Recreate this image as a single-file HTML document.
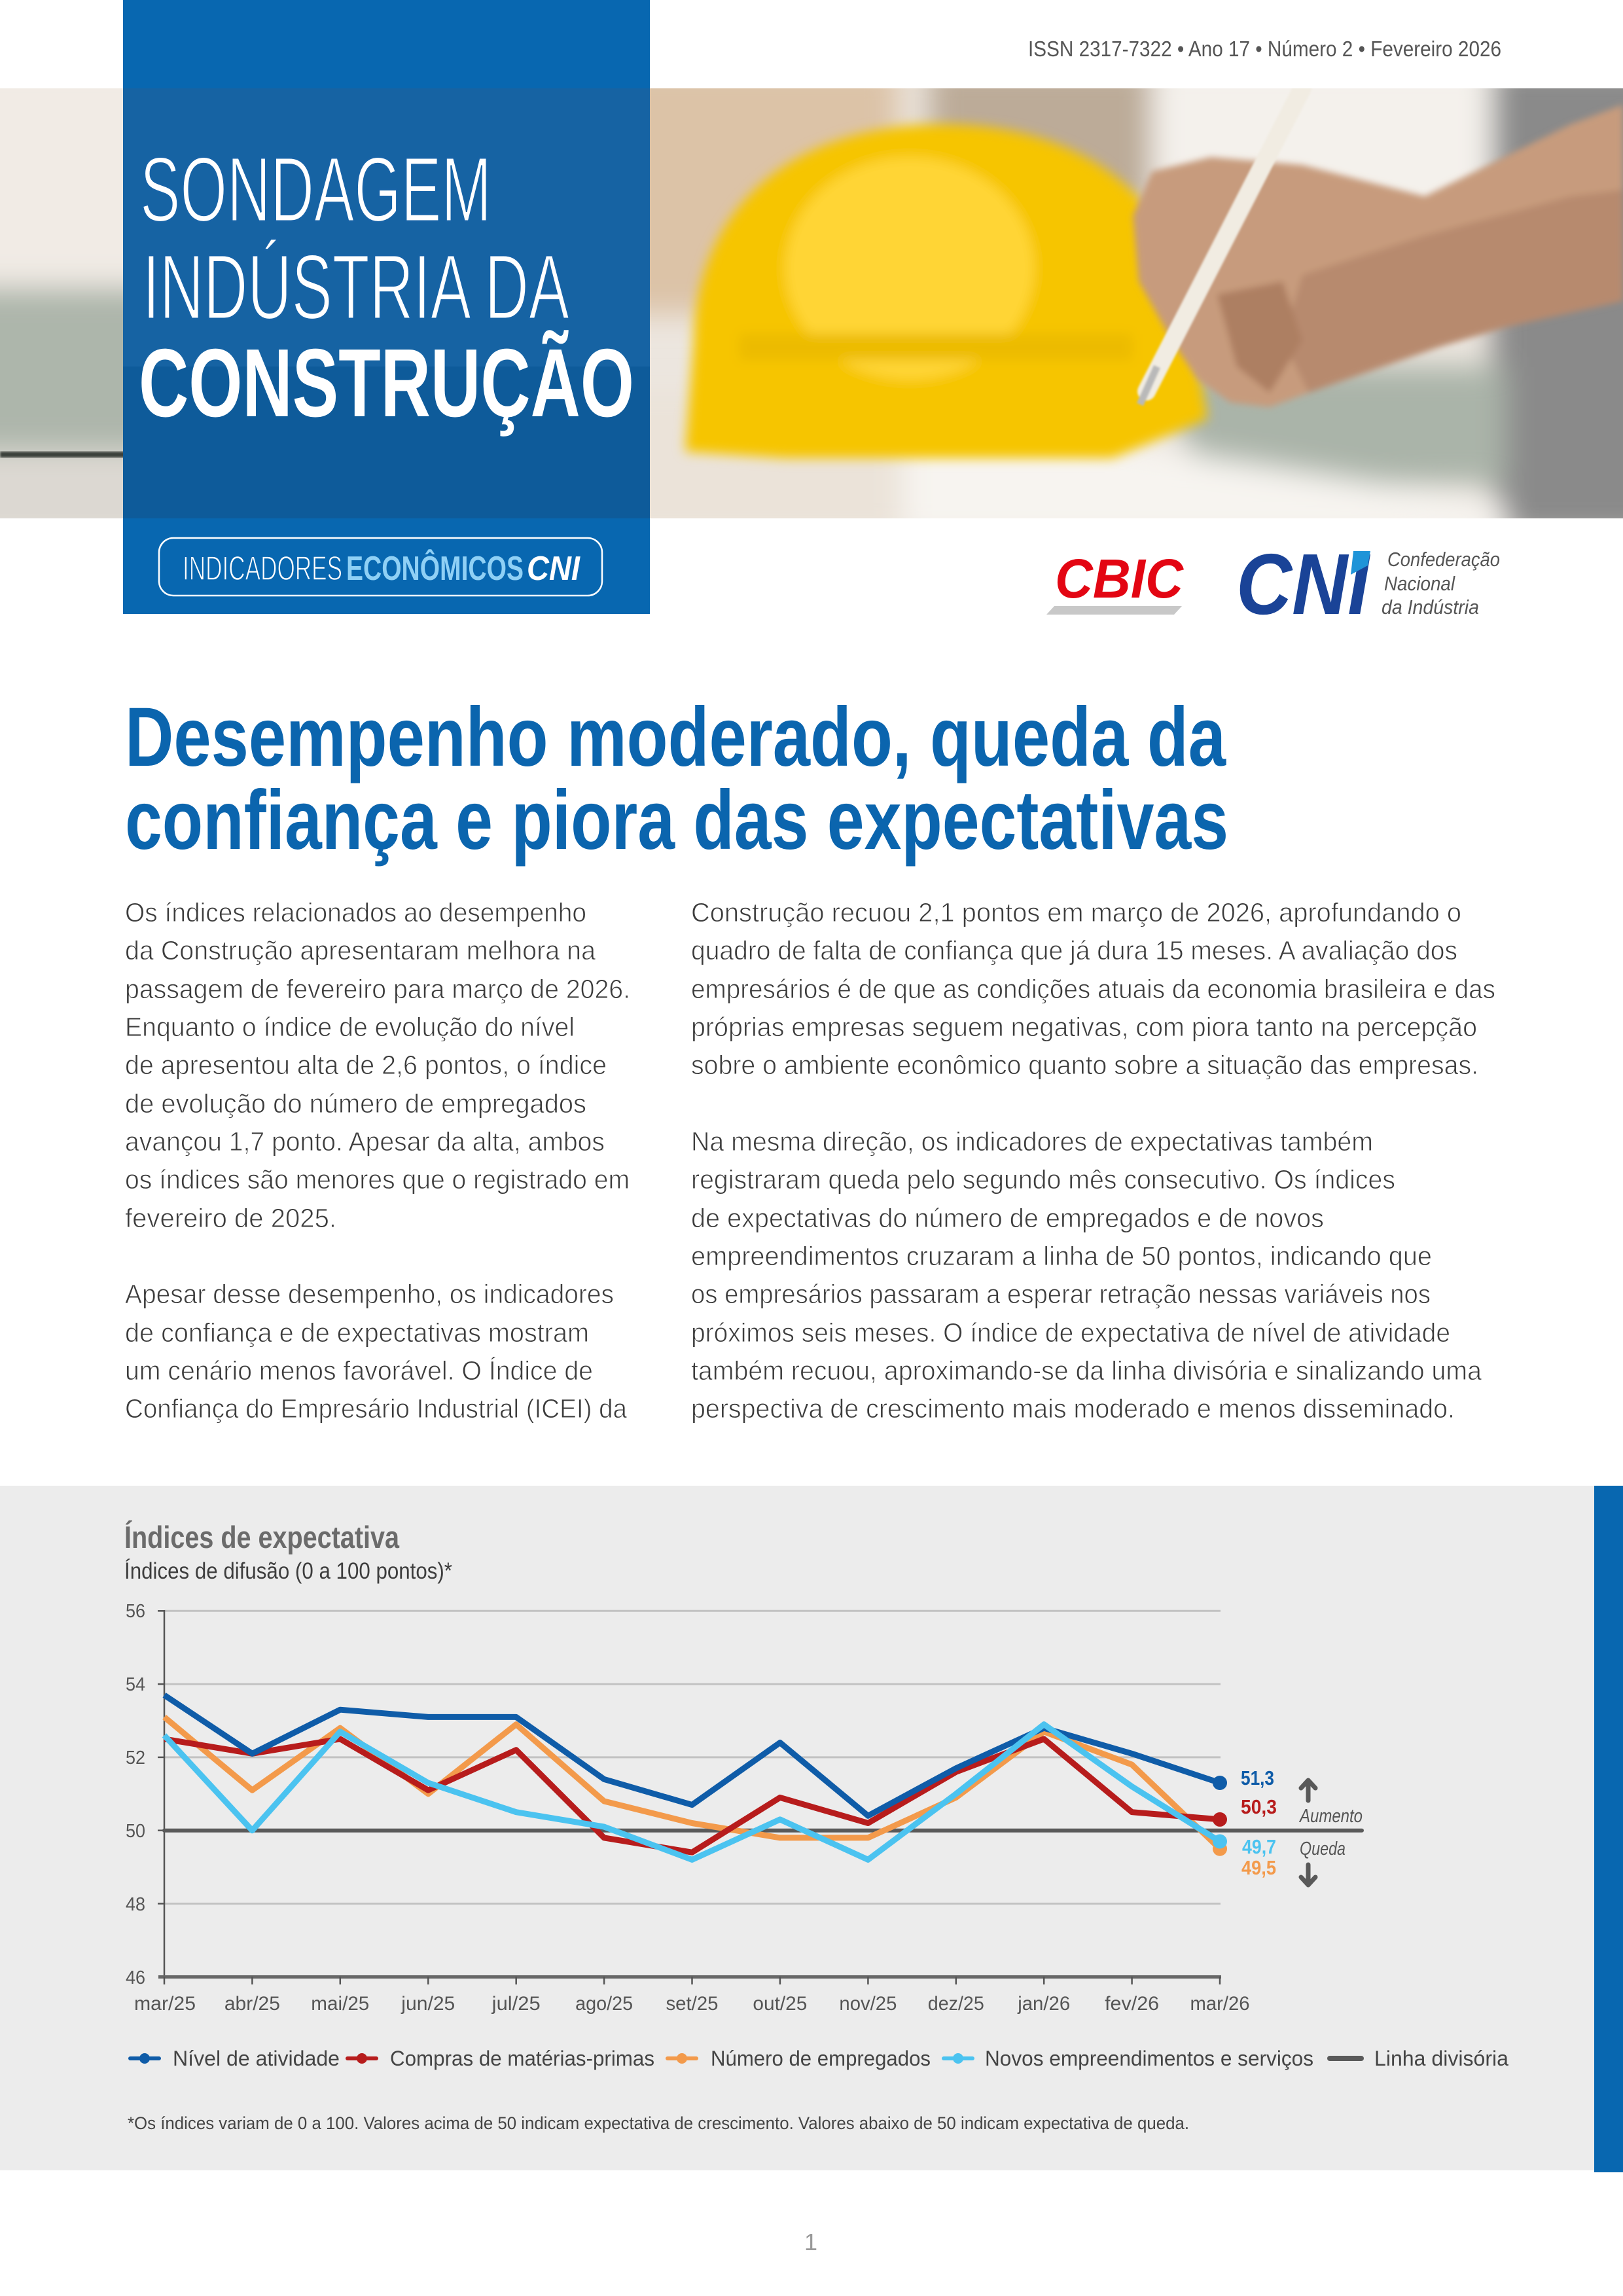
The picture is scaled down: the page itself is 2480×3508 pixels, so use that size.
<!DOCTYPE html>
<html><head><meta charset="utf-8"><style>
html,body{margin:0;padding:0;background:#fff;}
svg{display:block;}
text{font-family:"Liberation Sans",sans-serif;}
</style></head><body>
<svg width="2480" height="3508" viewBox="0 0 2480 3508" xmlns="http://www.w3.org/2000/svg">
<defs>
<filter id="blur" x="-10%" y="-10%" width="120%" height="120%"><feGaussianBlur stdDeviation="22"/></filter>
<filter id="blurH" x="-10%" y="-10%" width="120%" height="120%"><feGaussianBlur stdDeviation="9"/></filter>
<filter id="blur2" x="-10%" y="-10%" width="120%" height="120%"><feGaussianBlur stdDeviation="5"/></filter>
<filter id="blur3" x="-10%" y="-10%" width="120%" height="120%"><feGaussianBlur stdDeviation="1.5"/></filter>
<clipPath id="photoclip"><rect x="0" y="135" width="2480" height="657"/></clipPath>
</defs>
<rect x="0" y="0" width="2480" height="3508" fill="#ffffff"/>

<!-- ISSN -->
<text x="1571" y="86" font-size="33" fill="#555" textLength="723" lengthAdjust="spacingAndGlyphs">ISSN 2317-7322 • Ano 17 • Número 2 • Fevereiro 2026</text>

<!-- PHOTO -->
<g clip-path="url(#photoclip)">
 <rect x="0" y="135" width="2480" height="657" fill="#ece6df"/>
 <g filter="url(#blur)">
  <!-- left strip -->
  <rect x="-60" y="100" width="300" height="330" fill="#f1ebe5"/>
  <rect x="-60" y="440" width="300" height="250" fill="#adb6ab"/>
  <rect x="-60" y="700" width="300" height="120" fill="#dcd8d2"/>
  <!-- right area bg -->
  <rect x="940" y="100" width="433" height="380" fill="#dcc3a7"/>
  <rect x="1420" y="100" width="360" height="220" fill="#bcab98"/>
  <rect x="1760" y="100" width="540" height="330" fill="#f4f1ec"/>
  <rect x="2280" y="100" width="260" height="720" fill="#8a8a8a"/>
  <rect x="940" y="600" width="503" height="220" fill="#ebe3d9"/>
  <polygon points="1750,560 2300,560 2300,740 1850,740" fill="#aab4a9"/>
  <!-- paper -->
  <polygon points="1380,650 1600,660 2300,770 2300,820 1380,820" fill="#f7f4f0"/>
 </g>
 <rect x="0" y="690" width="200" height="9" fill="#3a403a" filter="url(#blur3)"/>
 <g filter="url(#blurH)">
  <!-- helmet -->
  <path d="M1047,690 L1060,520 C1065,300 1230,190 1440,190 C1650,190 1815,300 1825,520 L1845,640 L1700,700 L1200,700 Z" fill="#f6c500"/>
  <ellipse cx="1390" cy="410" rx="190" ry="170" fill="#ffd534"/>
  <rect x="1130" y="510" width="600" height="40" fill="#ecbb00"/>
 </g>
 <!-- under blue box darker shapes (covered by overlay) -->
 <rect x="188" y="135" width="805" height="657" fill="#5a6a78"/>
 <rect x="188" y="560" width="805" height="232" fill="#26323e"/>
 <!-- hand -->
 <g filter="url(#blur2)">
  <polygon points="1731,330 1760,262 1850,240 1990,252 2177,300 2400,190 2480,160 2480,460 2300,500 2200,530 2000,600 1940,622 1880,615 1830,580 1790,520 1740,430" fill="#c79b7d"/>
  <polygon points="1990,420 2177,360 2400,300 2480,290 2480,460 2300,500 2200,530 2000,600 1960,520" fill="#b78a6e"/>
  <polygon points="1860,450 1960,430 1990,520 1940,600 1890,560" fill="#ad7f62"/>
 </g>
 <g filter="url(#blur3)">
  <line x1="1990" y1="135" x2="1752" y2="598" stroke="#f1ece2" stroke-width="28" stroke-linecap="round"/>
  <line x1="1768" y1="560" x2="1742" y2="618" stroke="#b9b9b9" stroke-width="11"/>
 </g>
</g>

<!-- BLUE BOX -->
<rect x="188" y="0" width="805" height="135" fill="#0867b0"/>
<rect x="188" y="135" width="805" height="657" fill="#0a62aa" opacity="0.86"/>
<rect x="188" y="792" width="805" height="146" fill="#0867b0"/>

<g stroke="#1763a6" stroke-width="3">
<text x="214" y="338" font-size="141" fill="#fff" textLength="537" lengthAdjust="spacingAndGlyphs">SONDAGEM</text>
<text x="218" y="487" font-size="141" fill="#fff" textLength="652" lengthAdjust="spacingAndGlyphs">INDÚSTRIA DA</text>
</g>
<text x="212" y="636" font-size="148" font-weight="bold" fill="#fff" textLength="757" lengthAdjust="spacingAndGlyphs">CONSTRUÇÃO</text>

<rect x="243" y="822" width="677" height="88" rx="22" ry="22" fill="none" stroke="#ffffff" stroke-width="2.5"/>
<text x="279" y="886" font-size="52" fill="#fff" stroke="#0867b0" stroke-width="1.5" textLength="244" lengthAdjust="spacingAndGlyphs">INDICADORES</text>
<text x="529" y="886" font-size="52" font-weight="bold" fill="#8fd0f5" textLength="271" lengthAdjust="spacingAndGlyphs">ECONÔMICOS</text>
<text x="805" y="886" font-size="52" font-weight="bold" font-style="italic" fill="#fff" textLength="81" lengthAdjust="spacingAndGlyphs">CNI</text>

<!-- LOGOS -->
<text x="1612" y="913" font-size="84" font-weight="bold" font-style="italic" fill="#e30613" textLength="196" lengthAdjust="spacingAndGlyphs">CBIC</text>
<polygon points="1611,926 1806,926 1794,939 1599,939" fill="#c8c8c8"/>
<text x="1889" y="938" font-size="132" font-weight="bold" font-style="italic" fill="#1a4397" textLength="203" lengthAdjust="spacingAndGlyphs">CNI</text>
<polygon points="2068,842 2094,842 2090,864 2064,878" fill="#1f94d8"/>
<text x="2120" y="865" font-size="31" font-style="italic" fill="#555" textLength="172" lengthAdjust="spacingAndGlyphs">Confederação</text>
<text x="2115" y="902" font-size="31" font-style="italic" fill="#555" textLength="108" lengthAdjust="spacingAndGlyphs">Nacional</text>
<text x="2111" y="938" font-size="31" font-style="italic" fill="#555" textLength="149" lengthAdjust="spacingAndGlyphs">da Indústria</text>

<!-- HEADLINE -->
<text x="191" y="1170" font-size="128" font-weight="bold" fill="#0b65ae" textLength="1682" lengthAdjust="spacingAndGlyphs">Desempenho moderado, queda da</text>
<text x="191" y="1297" font-size="128" font-weight="bold" fill="#0b65ae" textLength="1686" lengthAdjust="spacingAndGlyphs">confiança e piora das expectativas</text>

<!-- BODY LEFT -->
<g font-size="41" fill="#3c3c3c" stroke="#fff" stroke-width="0.9">
<text x="191" y="1408" textLength="705" lengthAdjust="spacingAndGlyphs">Os índices relacionados ao desempenho</text>
<text x="191" y="1466" textLength="719" lengthAdjust="spacingAndGlyphs">da Construção apresentaram melhora na</text>
<text x="191" y="1525" textLength="772" lengthAdjust="spacingAndGlyphs">passagem de fevereiro para março de 2026.</text>
<text x="191" y="1583" textLength="687" lengthAdjust="spacingAndGlyphs">Enquanto o índice de evolução do nível</text>
<text x="191" y="1641" textLength="736" lengthAdjust="spacingAndGlyphs">de apresentou alta de 2,6 pontos, o índice</text>
<text x="191" y="1700" textLength="705" lengthAdjust="spacingAndGlyphs">de evolução do número de empregados</text>
<text x="191" y="1758" textLength="733" lengthAdjust="spacingAndGlyphs">avançou 1,7 ponto. Apesar da alta, ambos</text>
<text x="191" y="1816" textLength="771" lengthAdjust="spacingAndGlyphs">os índices são menores que o registrado em</text>
<text x="191" y="1875" textLength="323" lengthAdjust="spacingAndGlyphs">fevereiro de 2025.</text>
<text x="191" y="1991" textLength="747" lengthAdjust="spacingAndGlyphs">Apesar desse desempenho, os indicadores</text>
<text x="191" y="2050" textLength="709" lengthAdjust="spacingAndGlyphs">de confiança e de expectativas mostram</text>
<text x="191" y="2108" textLength="715" lengthAdjust="spacingAndGlyphs">um cenário menos favorável. O Índice de</text>
<text x="191" y="2166" textLength="767" lengthAdjust="spacingAndGlyphs">Confiança do Empresário Industrial (ICEI) da</text>
</g>
<!-- BODY RIGHT -->
<g font-size="41" fill="#3c3c3c" stroke="#fff" stroke-width="0.9">
<text x="1056" y="1408" textLength="1177" lengthAdjust="spacingAndGlyphs">Construção recuou 2,1 pontos em março de 2026, aprofundando o</text>
<text x="1056" y="1466" textLength="1171" lengthAdjust="spacingAndGlyphs">quadro de falta de confiança que já dura 15 meses. A avaliação dos</text>
<text x="1056" y="1525" textLength="1229" lengthAdjust="spacingAndGlyphs">empresários é de que as condições atuais da economia brasileira e das</text>
<text x="1056" y="1583" textLength="1201" lengthAdjust="spacingAndGlyphs">próprias empresas seguem negativas, com piora tanto na percepção</text>
<text x="1056" y="1641" textLength="1203" lengthAdjust="spacingAndGlyphs">sobre o ambiente econômico quanto sobre a situação das empresas.</text>
<text x="1056" y="1758" textLength="1042" lengthAdjust="spacingAndGlyphs">Na mesma direção, os indicadores de expectativas também</text>
<text x="1056" y="1816" textLength="1076" lengthAdjust="spacingAndGlyphs">registraram queda pelo segundo mês consecutivo. Os índices</text>
<text x="1056" y="1875" textLength="967" lengthAdjust="spacingAndGlyphs">de expectativas do número de empregados e de novos</text>
<text x="1056" y="1933" textLength="1132" lengthAdjust="spacingAndGlyphs">empreendimentos cruzaram a linha de 50 pontos, indicando que</text>
<text x="1056" y="1991" textLength="1130" lengthAdjust="spacingAndGlyphs">os empresários passaram a esperar retração nessas variáveis nos</text>
<text x="1056" y="2050" textLength="1160" lengthAdjust="spacingAndGlyphs">próximos seis meses. O índice de expectativa de nível de atividade</text>
<text x="1056" y="2108" textLength="1208" lengthAdjust="spacingAndGlyphs">também recuou, aproximando-se da linha divisória e sinalizando uma</text>
<text x="1056" y="2166" textLength="1167" lengthAdjust="spacingAndGlyphs">perspectiva de crescimento mais moderado e menos disseminado.</text>
</g>

<!-- CHART PANEL -->
<rect x="0" y="2270" width="2436" height="1046" fill="#ececec"/>
<rect x="2436" y="2270" width="44" height="1049" fill="#0867b0"/>

<text x="190" y="2365" font-size="47" font-weight="bold" fill="#6b6b6b" textLength="420" lengthAdjust="spacingAndGlyphs">Índices de expectativa</text>
<text x="190" y="2412" font-size="35" fill="#3d3d3d" textLength="501" lengthAdjust="spacingAndGlyphs">Índices de difusão (0 a 100 pontos)*</text>

<!-- gridlines -->
<g stroke="#c2c2c2" stroke-width="3">
<line x1="251" y1="2461.3" x2="1865" y2="2461.3"/>
<line x1="251" y1="2573.1" x2="1865" y2="2573.1"/>
<line x1="251" y1="2684.9" x2="1865" y2="2684.9"/>
<line x1="251" y1="2908.5" x2="1865" y2="2908.5"/>
</g>
<!-- y ticks -->
<g stroke="#555" stroke-width="2.5">
<line x1="241" y1="2461.3" x2="251" y2="2461.3"/>
<line x1="241" y1="2573.1" x2="251" y2="2573.1"/>
<line x1="241" y1="2684.9" x2="251" y2="2684.9"/>
<line x1="241" y1="2796.7" x2="251" y2="2796.7"/>
<line x1="241" y1="2908.5" x2="251" y2="2908.5"/>
<line x1="251" y1="2460" x2="251" y2="3022"/>
</g>
<g font-size="29" fill="#555" text-anchor="end">
<text x="222" y="2471" textLength="30" lengthAdjust="spacingAndGlyphs">56</text>
<text x="222" y="2583" textLength="30" lengthAdjust="spacingAndGlyphs">54</text>
<text x="222" y="2695" textLength="30" lengthAdjust="spacingAndGlyphs">52</text>
<text x="222" y="2807" textLength="30" lengthAdjust="spacingAndGlyphs">50</text>
<text x="222" y="2919" textLength="30" lengthAdjust="spacingAndGlyphs">48</text>
<text x="222" y="3031" textLength="30" lengthAdjust="spacingAndGlyphs">46</text>
</g>
<!-- x axis -->
<line x1="242" y1="3020.5" x2="1866" y2="3020.5" stroke="#666" stroke-width="5"/>
<g stroke="#555" stroke-width="2.5">
<line x1="251" y1="3020" x2="251" y2="3032"/>
<line x1="385.4" y1="3020" x2="385.4" y2="3032"/>
<line x1="519.8" y1="3020" x2="519.8" y2="3032"/>
<line x1="654.3" y1="3020" x2="654.3" y2="3032"/>
<line x1="788.7" y1="3020" x2="788.7" y2="3032"/>
<line x1="923.1" y1="3020" x2="923.1" y2="3032"/>
<line x1="1057.5" y1="3020" x2="1057.5" y2="3032"/>
<line x1="1191.9" y1="3020" x2="1191.9" y2="3032"/>
<line x1="1326.4" y1="3020" x2="1326.4" y2="3032"/>
<line x1="1460.8" y1="3020" x2="1460.8" y2="3032"/>
<line x1="1595.2" y1="3020" x2="1595.2" y2="3032"/>
<line x1="1729.6" y1="3020" x2="1729.6" y2="3032"/>
<line x1="1864" y1="3020" x2="1864" y2="3032"/>
</g>
<g font-size="30" fill="#555" text-anchor="middle">
<text x="252" y="3071" textLength="94" lengthAdjust="spacingAndGlyphs">mar/25</text>
<text x="385.4" y="3071" textLength="85" lengthAdjust="spacingAndGlyphs">abr/25</text>
<text x="519.8" y="3071" textLength="89" lengthAdjust="spacingAndGlyphs">mai/25</text>
<text x="654.3" y="3071" textLength="82" lengthAdjust="spacingAndGlyphs">jun/25</text>
<text x="788.7" y="3071" textLength="74" lengthAdjust="spacingAndGlyphs">jul/25</text>
<text x="923.1" y="3071" textLength="88" lengthAdjust="spacingAndGlyphs">ago/25</text>
<text x="1057.5" y="3071" textLength="80" lengthAdjust="spacingAndGlyphs">set/25</text>
<text x="1191.9" y="3071" textLength="83" lengthAdjust="spacingAndGlyphs">out/25</text>
<text x="1326.4" y="3071" textLength="88" lengthAdjust="spacingAndGlyphs">nov/25</text>
<text x="1460.8" y="3071" textLength="86" lengthAdjust="spacingAndGlyphs">dez/25</text>
<text x="1595.2" y="3071" textLength="80" lengthAdjust="spacingAndGlyphs">jan/26</text>
<text x="1729.6" y="3071" textLength="83" lengthAdjust="spacingAndGlyphs">fev/26</text>
<text x="1864" y="3071" textLength="91" lengthAdjust="spacingAndGlyphs">mar/26</text>
</g>

<!-- divider line 50 -->
<line x1="251" y1="2796.7" x2="2081" y2="2796.7" stroke="#5a5a5a" stroke-width="6" stroke-linecap="round"/>

<!-- series -->
<g fill="none" stroke-width="9" stroke-linejoin="round" stroke-linecap="butt">
<polyline stroke="#f39a4b" points="251,2623.4 385.4,2735.2 519.8,2640.2 654.3,2740.8 788.7,2634.6 923.1,2752.0 1057.5,2785.5 1191.9,2807.9 1326.4,2807.9 1460.8,2746.4 1595.2,2645.8 1729.6,2696.1 1864,2824.7"/>
<polyline stroke="#b71c1c" points="251,2656.9 385.4,2679.3 519.8,2656.9 654.3,2735.2 788.7,2673.7 923.1,2807.9 1057.5,2830.2 1191.9,2746.4 1326.4,2785.5 1460.8,2707.3 1595.2,2656.9 1729.6,2768.7 1864,2779.9"/>
<polyline stroke="#0f5ca8" points="251,2589.9 385.4,2679.3 519.8,2612.2 654.3,2623.4 788.7,2623.4 923.1,2718.4 1057.5,2757.6 1191.9,2662.5 1326.4,2774.3 1460.8,2701.7 1595.2,2640.2 1729.6,2679.3 1864,2724.0"/>
<polyline stroke="#4bc3f0" points="251,2651.4 385.4,2796.7 519.8,2645.8 654.3,2724.0 788.7,2768.7 923.1,2791.1 1057.5,2841.4 1191.9,2779.9 1326.4,2841.4 1460.8,2740.8 1595.2,2634.6 1729.6,2729.6 1864,2813.5"/>
</g>
<circle cx="1864" cy="2824.7" r="11" fill="#f39a4b"/>
<circle cx="1864" cy="2779.9" r="11" fill="#b71c1c"/>
<circle cx="1864" cy="2724.0" r="11" fill="#0f5ca8"/>
<circle cx="1864" cy="2813.5" r="11" fill="#4bc3f0"/>

<!-- end labels -->
<g font-size="31" font-weight="bold">
<text x="1896" y="2727" fill="#0f5ca8" textLength="51" lengthAdjust="spacingAndGlyphs">51,3</text>
<text x="1896" y="2771" fill="#b71c1c" textLength="55" lengthAdjust="spacingAndGlyphs">50,3</text>
<text x="1898" y="2832" fill="#4bc3f0" textLength="52" lengthAdjust="spacingAndGlyphs">49,7</text>
<text x="1897" y="2864" fill="#f39a4b" textLength="53" lengthAdjust="spacingAndGlyphs">49,5</text>
</g>
<!-- arrows -->
<g stroke="#595959" stroke-width="7" fill="none" stroke-linecap="round" stroke-linejoin="round">
<line x1="1999" y1="2722" x2="1999" y2="2751"/>
<polyline points="1988,2732 1999,2720 2010,2732"/>
<line x1="1999" y1="2849" x2="1999" y2="2878"/>
<polyline points="1988,2868 1999,2880 2010,2868"/>
</g>
<text x="1986" y="2784" font-size="29" font-style="italic" fill="#555" textLength="96" lengthAdjust="spacingAndGlyphs">Aumento</text>
<text x="1986" y="2834" font-size="29" font-style="italic" fill="#555" textLength="70" lengthAdjust="spacingAndGlyphs">Queda</text>

<!-- legend -->
<g stroke-width="6" stroke-linecap="round">
<line x1="199" y1="3145" x2="243" y2="3145" stroke="#0f5ca8"/>
<line x1="531" y1="3145" x2="575" y2="3145" stroke="#b71c1c"/>
<line x1="1020" y1="3145" x2="1064" y2="3145" stroke="#f39a4b"/>
<line x1="1442" y1="3145" x2="1486" y2="3145" stroke="#4bc3f0"/>
<line x1="2032" y1="3145" x2="2080" y2="3145" stroke="#5a5a5a" stroke-width="8"/>
</g>
<circle cx="221" cy="3145" r="8" fill="#0f5ca8"/>
<circle cx="553" cy="3145" r="8" fill="#b71c1c"/>
<circle cx="1042" cy="3145" r="8" fill="#f39a4b"/>
<circle cx="1464" cy="3145" r="8" fill="#4bc3f0"/>
<g font-size="32" fill="#444">
<text x="264" y="3156" textLength="255" lengthAdjust="spacingAndGlyphs">Nível de atividade</text>
<text x="596" y="3156" textLength="404" lengthAdjust="spacingAndGlyphs">Compras de matérias-primas</text>
<text x="1086" y="3156" textLength="336" lengthAdjust="spacingAndGlyphs">Número de empregados</text>
<text x="1505" y="3156" textLength="502" lengthAdjust="spacingAndGlyphs">Novos empreendimentos e serviços</text>
<text x="2100" y="3156" textLength="205" lengthAdjust="spacingAndGlyphs">Linha divisória</text>
</g>

<text x="195" y="3253" font-size="27" fill="#444" textLength="1622" lengthAdjust="spacingAndGlyphs">*Os índices variam de 0 a 100. Valores acima de 50 indicam expectativa de crescimento. Valores abaixo de 50 indicam expectativa de queda.</text>

<!-- page number -->
<text x="1239" y="3438" font-size="36" fill="#999" text-anchor="middle">1</text>
</svg>
</body></html>
